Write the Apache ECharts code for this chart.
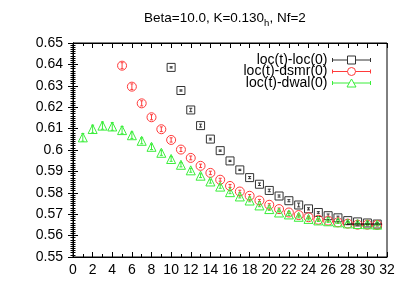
<!DOCTYPE html>
<html><head><meta charset="utf-8">
<script src="https://cdn.jsdelivr.net/npm/echarts@6/dist/echarts.min.js"></script>
<style>html,body{margin:0;padding:0;background:#fff}#c{width:409px;height:286px}</style>
</head><body><div id="c"></div>
<script>
const tLoc = [10,11,12,13,14,15,16,17,18,19,20,21,22,23,24,25,26,27,28,29,30,31];
const locVals = [0.6386,0.6278,0.6187,0.6114,0.6051,0.5997,0.5949,0.5907,0.5871,0.5840,0.5811,0.5785,0.5763,0.5743,0.5725,0.5708,0.5693,0.5683,0.5670,0.5664,0.5659,0.5654];
const locErr = [0.0003,0.0003,0.0008,0.0007,0.0004,0.0003,0.0003,0.0003,0.0005,0.0006,0.0006,0.0005,0.0005,0.0009,0.0005,0.0004,0.0008,0.0008,0.0005,0.0007,0.0008,0.0008];
const tDsmr = [5,6,7,8,9,10,11,12,13,14,15,16,17,18,19,20,21,22,23,24,25,26,27,28,29,30,31];
const dsmrVals = [0.6394,0.6296,0.6218,0.6153,0.6097,0.6047,0.6002,0.5963,0.5926,0.5893,0.5861,0.5832,0.5806,0.5786,0.5764,0.5744,0.5724,0.5708,0.5696,0.5686,0.5674,0.5670,0.5662,0.5656,0.5651,0.5651,0.5650];
const dsmrErr = [0.0014,0.0013,0.0012,0.0012,0.0011,0.0010,0.0009,0.0009,0.0008,0.0008,0.0007,0.0007,0.0006,0.0006,0.0005,0.0005,0.0005,0.0005,0.0005,0.0005,0.0005,0.0005,0.0005,0.0005,0.0005,0.0005,0.0005];
const tDwal = [1,2,3,4,5,6,7,8,9,10,11,12,13,14,15,16,17,18,19,20,21,22,23,24,25,26,27,28,29,30,31];
const dwalVals = [0.6059,0.6098,0.6114,0.6110,0.6093,0.6069,0.6043,0.6015,0.5987,0.5958,0.5931,0.5905,0.5880,0.5853,0.5829,0.5803,0.5783,0.5764,0.5741,0.5724,0.5708,0.5699,0.5688,0.5678,0.5671,0.5667,0.5662,0.5657,0.5654,0.5653,0.5651];
const dwalErr = [0.0018,0.0018,0.0017,0.0018,0.0017,0.0015,0.0014,0.0013,0.0012,0.0011,0.0010,0.0009,0.0009,0.0008,0.0008,0.0007,0.0007,0.0006,0.0006,0.0006,0.0005,0.0005,0.0005,0.0005,0.0005,0.0005,0.0005,0.0005,0.0005,0.0005,0.0005];
const fitRange = [27.9, 31.5];
const fitValue = 0.5654;
const names = ['loc(t)-loc(0)','loc(t)-dsmr(0)','loc(t)-dwal(0)'];
const colors = ['#333333','#ff3a3a','#3aee3a'];
const xTicks = {min:0, max:32, interval:2};
const yTicks = {min:0.55, max:0.65, interval:0.01};

const FONT = "'Liberation Sans', Arial, sans-serif";
const chart = echarts.init(document.getElementById('c'), null, {renderer:'canvas'});

function zipErr(t, v, e){ return t.map((x,i)=>[x, v[i], e[i]]); }
function zip(t, v){ return t.map((x,i)=>[x, v[i]]); }

function errSeries(data, color){
  return {
    type:'custom', data: data, z:2, clip:true, silent:true,
    renderItem: function(params, api){
      const x = api.value(0), y = api.value(1), e = api.value(2);
      const p1 = api.coord([x, y+e]), p2 = api.coord([x, y-e]);
      const w = 1.5;
      const st = {stroke: color, lineWidth: 1, fill:null};
      return {type:'group', children:[
        {type:'line', shape:{x1:p1[0],y1:p1[1],x2:p2[0],y2:p2[1]}, style:st},
        {type:'line', shape:{x1:p1[0]-w,y1:p1[1],x2:p1[0]+w,y2:p1[1]}, style:st},
        {type:'line', shape:{x1:p2[0]-w,y1:p2[1],x2:p2[0]+w,y2:p2[1]}, style:st}
      ]};
    }
  };
}
function markSeries(name, data, color, symbol, size){
  return {
    name: name, type:'scatter', data: data, symbol: symbol, symbolSize: size, z:3, silent:true,
    itemStyle:{color:'rgba(0,0,0,0)', borderColor: color, borderWidth: 1, opacity:1}
  };
}

const iconSq = 'path://M0 2V6M0 4H15M23 4H38M38 2V6M15 0H23V8H15Z';
const iconCi = 'path://M0 2V6M0 4H15M23 4H38M38 2V6M23 4A4 4 0 1 1 15 4A4 4 0 1 1 23 4Z';
const iconTr = 'path://M0 2V6M0 4H16.5M21.5 4H38M38 2V6M19 0L23.5 8H14.5Z';

const axisCommon = {
  axisLine:{show:true, lineStyle:{color:'#000', width:1}},
  splitLine:{show:false},
  axisTick:{show:true, inside:true, length:5, lineStyle:{color:'#000'}},
  minorTick:{show:true, length:3, lineStyle:{color:'#000'}},
};

const option = {
  animation:false,
  backgroundColor:'#fff',
  title:{
    text:'{a|Beta=10.0, K=0.130}{s|h}{a|, Nf=2}',
    left:144, top:9, padding:0,
    textStyle:{fontWeight:'normal', rich:{
      a:{fontSize:13.5, fontFamily:FONT, color:'#000', fontWeight:'normal'},
      s:{fontSize:9.5, fontFamily:FONT, color:'#000', fontWeight:'normal', padding:[9,0,0,0]}
    }}
  },
  grid:{left:73, right:22, top:43, bottom:29, show:true, borderColor:'#000', borderWidth:1, backgroundColor:'rgba(0,0,0,0)'},
  legend:{
    orient:'vertical', right:38, top:53, align:'right', padding:0,
    itemWidth:38, itemHeight:8, itemGap:-2.5, selectedMode:false,
    textStyle:{fontSize:14, fontFamily:FONT, color:'#000', lineHeight:14},
    data:[
      {name:names[0], icon:iconSq, itemStyle:{color:'rgba(0,0,0,0)', borderColor:colors[0], borderWidth:1}},
      {name:names[1], icon:iconCi, itemStyle:{color:'rgba(0,0,0,0)', borderColor:colors[1], borderWidth:1}},
      {name:names[2], icon:iconTr, itemStyle:{color:'rgba(0,0,0,0)', borderColor:colors[2], borderWidth:1}}
    ]
  },
  xAxis:[
    Object.assign({type:'value', min:xTicks.min, max:xTicks.max, interval:xTicks.interval, position:'bottom',
      axisLabel:{show:true, fontSize:14, fontFamily:FONT, color:'#000', margin:6}}, axisCommon,
      {minorTick:{show:true, splitNumber:2, length:3, lineStyle:{color:'#000'}}}),
    Object.assign({type:'value', min:xTicks.min, max:xTicks.max, interval:xTicks.interval, position:'top',
      axisLabel:{show:false}}, axisCommon,
      {minorTick:{show:true, splitNumber:2, length:3, lineStyle:{color:'#000'}}})
  ],
  yAxis:[
    Object.assign({type:'value', min:yTicks.min, max:yTicks.max, interval:yTicks.interval, position:'left',
      axisLabel:{show:true, fontSize:14, fontFamily:FONT, color:'#000', margin:10}}, axisCommon,
      {minorTick:{show:true, splitNumber:10, length:2.5, lineStyle:{color:'#000'}}}),
    Object.assign({type:'value', min:yTicks.min, max:yTicks.max, interval:yTicks.interval, position:'right',
      axisLabel:{show:false}}, axisCommon,
      {minorTick:{show:true, splitNumber:10, length:2.5, lineStyle:{color:'#000'}}})
  ],
  series:[
    errSeries(zipErr(tLoc, locVals, locErr), colors[0]),
    markSeries(names[0], zip(tLoc, locVals), colors[0], 'rect', 8),
    {type:'line', data:[[fitRange[0], fitValue],[fitRange[1], fitValue]], symbol:'none', silent:true, z:4,
      lineStyle:{color:'#000', width:1}},
    errSeries(zipErr(tDsmr, dsmrVals, dsmrErr), colors[1]),
    markSeries(names[1], zip(tDsmr, dsmrVals), colors[1], 'circle', 9),
    errSeries(zipErr(tDwal, dwalVals, dwalErr), colors[2]),
    markSeries(names[2], zip(tDwal, dwalVals), colors[2], 'triangle', 9)
  ]
};
chart.setOption(option);
</script></body></html>
